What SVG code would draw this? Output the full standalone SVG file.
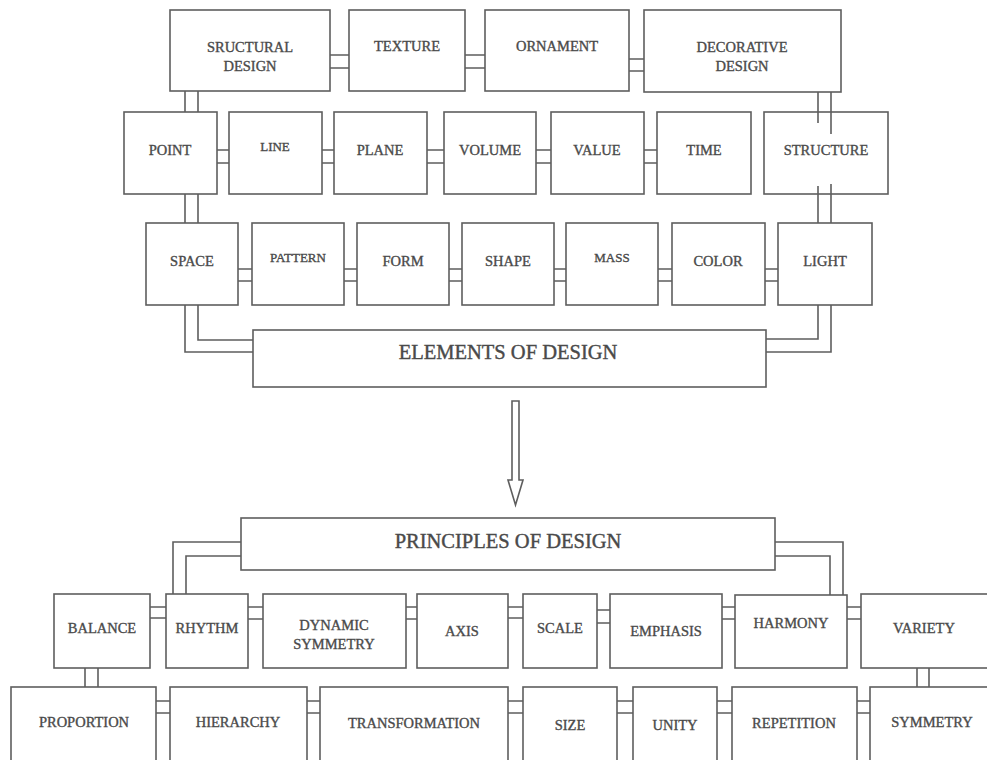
<svg xmlns="http://www.w3.org/2000/svg" width="987" height="760" viewBox="0 0 987 760">
  <style>
    .box { fill: #ffffff; stroke: #5e5e5e; stroke-width: 1.6; }
    .ln { fill: none; stroke: #5e5e5e; stroke-width: 1.6; }
    text { font-family: "Liberation Serif", "Times New Roman", serif; fill: #4a4a4a; stroke: #4a4a4a; stroke-width: 0.35; text-anchor: middle; font-size: 14.5px; }
    .sm { font-size: 13px; }
    .big { font-size: 20.5px; stroke-width: 0.4; }
  </style>
  <rect width="987" height="760" fill="#ffffff"/>

  <!-- connectors (drawn first so boxes sit on top where needed) -->
  <g id="connectors">
    <!-- top row -->
    <path class="ln" d="M330 55H349M330 68H349"/>
    <path class="ln" d="M465 55H485M465 68H485"/>
    <path class="ln" d="M629 59H644M629 71H644"/>
    <!-- SRUCTURAL DESIGN to POINT to SPACE -->
    <path class="ln" d="M185 91V112M198 91V112"/>
    <path class="ln" d="M185 194V223M198 194V223"/>
    <!-- second row -->
    <path class="ln" d="M217 150H229M217 163H229"/>
    <path class="ln" d="M322 150H334M322 163H334"/>
    <path class="ln" d="M427 150H444M427 163H444"/>
    <path class="ln" d="M536 150H551M536 163H551"/>
    <path class="ln" d="M644 150H657M644 163H657"/>
    <!-- third row -->
    <path class="ln" d="M238 269H252M238 281H252"/>
    <path class="ln" d="M344 269H357M344 281H357"/>
    <path class="ln" d="M449 269H462M449 281H462"/>
    <path class="ln" d="M554 269H566M554 281H566"/>
    <path class="ln" d="M658 269H672M658 281H672"/>
    <path class="ln" d="M765 269H778M765 281H778"/>
    <!-- SPACE / LIGHT into ELEMENTS OF DESIGN -->
    <path class="ln" d="M185 305V352H253M198 305V340H253"/>
    <path class="ln" d="M818 305V339H766M831 305V352H766"/>
    <!-- principles row 1 -->
    <path class="ln" d="M150 607H166M150 618H166"/>
    <path class="ln" d="M248 607H263M248 619H263"/>
    <path class="ln" d="M406 607H417M406 619H417"/>
    <path class="ln" d="M508 607H523M508 618H523"/>
    <path class="ln" d="M597 610H610M597 623H610"/>
    <path class="ln" d="M722 607H735M722 619H735"/>
    <path class="ln" d="M847 607H861M847 619H861"/>
    <!-- PRINCIPLES OF DESIGN to RHYTHM / HARMONY -->
    <path class="ln" d="M241 542H173V594M241 556H186V594"/>
    <path class="ln" d="M775 542H843V595M775 556H830V595"/>
    <!-- BALANCE / VARIETY down -->
    <path class="ln" d="M85 668V687M98 668V687"/>
    <path class="ln" d="M917 668V687M929 668V687"/>
    <!-- principles row 2 -->
    <path class="ln" d="M156 701H170M156 713H170"/>
    <path class="ln" d="M307 701H320M307 713H320"/>
    <path class="ln" d="M508 701H523M508 713H523"/>
    <path class="ln" d="M617 701H633M617 713H633"/>
    <path class="ln" d="M717 701H732M717 713H732"/>
    <path class="ln" d="M857 701H870M857 713H870"/>
  </g>

  <!-- top row -->
  <g id="n-structural-design">
    <rect class="box" x="170" y="10" width="160" height="81"/>
    <text x="250" y="52">SRUCTURAL</text>
    <text x="250" y="71">DESIGN</text>
  </g>
  <g id="n-texture">
    <rect class="box" x="349" y="10" width="116" height="81"/>
    <text x="407" y="51">TEXTURE</text>
  </g>
  <g id="n-ornament">
    <rect class="box" x="485" y="10" width="144" height="81"/>
    <text x="557" y="51">ORNAMENT</text>
  </g>
  <g id="n-decorative-design">
    <rect class="box" x="644" y="10" width="197" height="82"/>
    <text x="742" y="52">DECORATIVE</text>
    <text x="742" y="71">DESIGN</text>
  </g>

  <!-- second row -->
  <g id="n-point">
    <rect class="box" x="124" y="112" width="93" height="82"/>
    <text x="170" y="155">POINT</text>
  </g>
  <g id="n-line">
    <rect class="box" x="229" y="112" width="93" height="82"/>
    <text class="sm" x="275" y="151">LINE</text>
  </g>
  <g id="n-plane">
    <rect class="box" x="334" y="112" width="93" height="82"/>
    <text x="380" y="155">PLANE</text>
  </g>
  <g id="n-volume">
    <rect class="box" x="444" y="112" width="92" height="82"/>
    <text x="490" y="155">VOLUME</text>
  </g>
  <g id="n-value">
    <rect class="box" x="551" y="112" width="93" height="82"/>
    <text x="597" y="155">VALUE</text>
  </g>
  <g id="n-time">
    <rect class="box" x="657" y="112" width="94" height="82"/>
    <text x="704" y="155">TIME</text>
  </g>
  <g id="n-structure">
    <rect class="box" x="764" y="112" width="124" height="82"/>
    <!-- double line from DECORATIVE DESIGN runs into the box, and out again below -->
    <path class="ln" d="M818 92V123M831 92V134"/>
    <path class="ln" d="M818 186V223M831 184V223"/>
    <text x="826" y="155">STRUCTURE</text>
  </g>

  <!-- third row -->
  <g id="n-space">
    <rect class="box" x="146" y="223" width="92" height="82"/>
    <text x="192" y="266">SPACE</text>
  </g>
  <g id="n-pattern">
    <rect class="box" x="252" y="223" width="92" height="82"/>
    <text class="sm" x="298" y="262">PATTERN</text>
  </g>
  <g id="n-form">
    <rect class="box" x="357" y="223" width="92" height="82"/>
    <text x="403" y="266">FORM</text>
  </g>
  <g id="n-shape">
    <rect class="box" x="462" y="223" width="92" height="82"/>
    <text x="508" y="266">SHAPE</text>
  </g>
  <g id="n-mass">
    <rect class="box" x="566" y="223" width="92" height="82"/>
    <text class="sm" x="612" y="262">MASS</text>
  </g>
  <g id="n-color">
    <rect class="box" x="672" y="223" width="93" height="82"/>
    <text x="718" y="266">COLOR</text>
  </g>
  <g id="n-light">
    <rect class="box" x="778" y="223" width="94" height="82"/>
    <text x="825" y="266">LIGHT</text>
  </g>

  <g id="n-elements">
    <rect class="box" x="253" y="330" width="513" height="57"/>
    <text class="big" x="508" y="359">ELEMENTS OF DESIGN</text>
  </g>

  <!-- hollow arrow down -->
  <g id="arrow">
    <path class="ln" stroke-width="1.3" d="M512 401H519V480H523L515.5 505L508 480H512Z"/>
  </g>

  <g id="n-principles">
    <rect class="box" x="241" y="518" width="534" height="52"/>
    <text class="big" x="508" y="548">PRINCIPLES OF DESIGN</text>
  </g>

  <!-- principles row 1 -->
  <g id="n-balance">
    <rect class="box" x="54" y="594" width="96" height="74"/>
    <text x="102" y="633">BALANCE</text>
  </g>
  <g id="n-rhythm">
    <rect class="box" x="166" y="594" width="82" height="74"/>
    <text x="207" y="633">RHYTHM</text>
  </g>
  <g id="n-dynamic-symmetry">
    <rect class="box" x="263" y="594" width="143" height="74"/>
    <text x="334" y="630">DYNAMIC</text>
    <text x="334" y="649">SYMMETRY</text>
  </g>
  <g id="n-axis">
    <rect class="box" x="417" y="594" width="91" height="74"/>
    <text x="462" y="636">AXIS</text>
  </g>
  <g id="n-scale">
    <rect class="box" x="523" y="594" width="74" height="74"/>
    <text x="560" y="633">SCALE</text>
  </g>
  <g id="n-emphasis">
    <rect class="box" x="610" y="594" width="112" height="74"/>
    <text x="666" y="636">EMPHASIS</text>
  </g>
  <g id="n-harmony">
    <rect class="box" x="735" y="595" width="112" height="73"/>
    <text x="791" y="628">HARMONY</text>
  </g>
  <g id="n-variety">
    <rect class="box" x="861" y="594" width="128" height="74"/>
    <text x="924" y="633">VARIETY</text>
  </g>

  <!-- principles row 2 -->
  <g id="n-proportion">
    <rect class="box" x="11" y="687" width="145" height="100"/>
    <text x="84" y="727">PROPORTION</text>
  </g>
  <g id="n-hierarchy">
    <rect class="box" x="170" y="687" width="137" height="100"/>
    <text x="238" y="727">HIERARCHY</text>
  </g>
  <g id="n-transformation">
    <rect class="box" x="320" y="687" width="188" height="100"/>
    <text x="414" y="728">TRANSFORMATION</text>
  </g>
  <g id="n-size">
    <rect class="box" x="523" y="687" width="94" height="100"/>
    <text x="570" y="730">SIZE</text>
  </g>
  <g id="n-unity">
    <rect class="box" x="633" y="687" width="84" height="100"/>
    <text x="675" y="730">UNITY</text>
  </g>
  <g id="n-repetition">
    <rect class="box" x="732" y="687" width="125" height="100"/>
    <text x="794" y="728">REPETITION</text>
  </g>
  <g id="n-symmetry">
    <rect class="box" x="870" y="687" width="130" height="100"/>
    <text x="932" y="727">SYMMETRY</text>
  </g>
</svg>
